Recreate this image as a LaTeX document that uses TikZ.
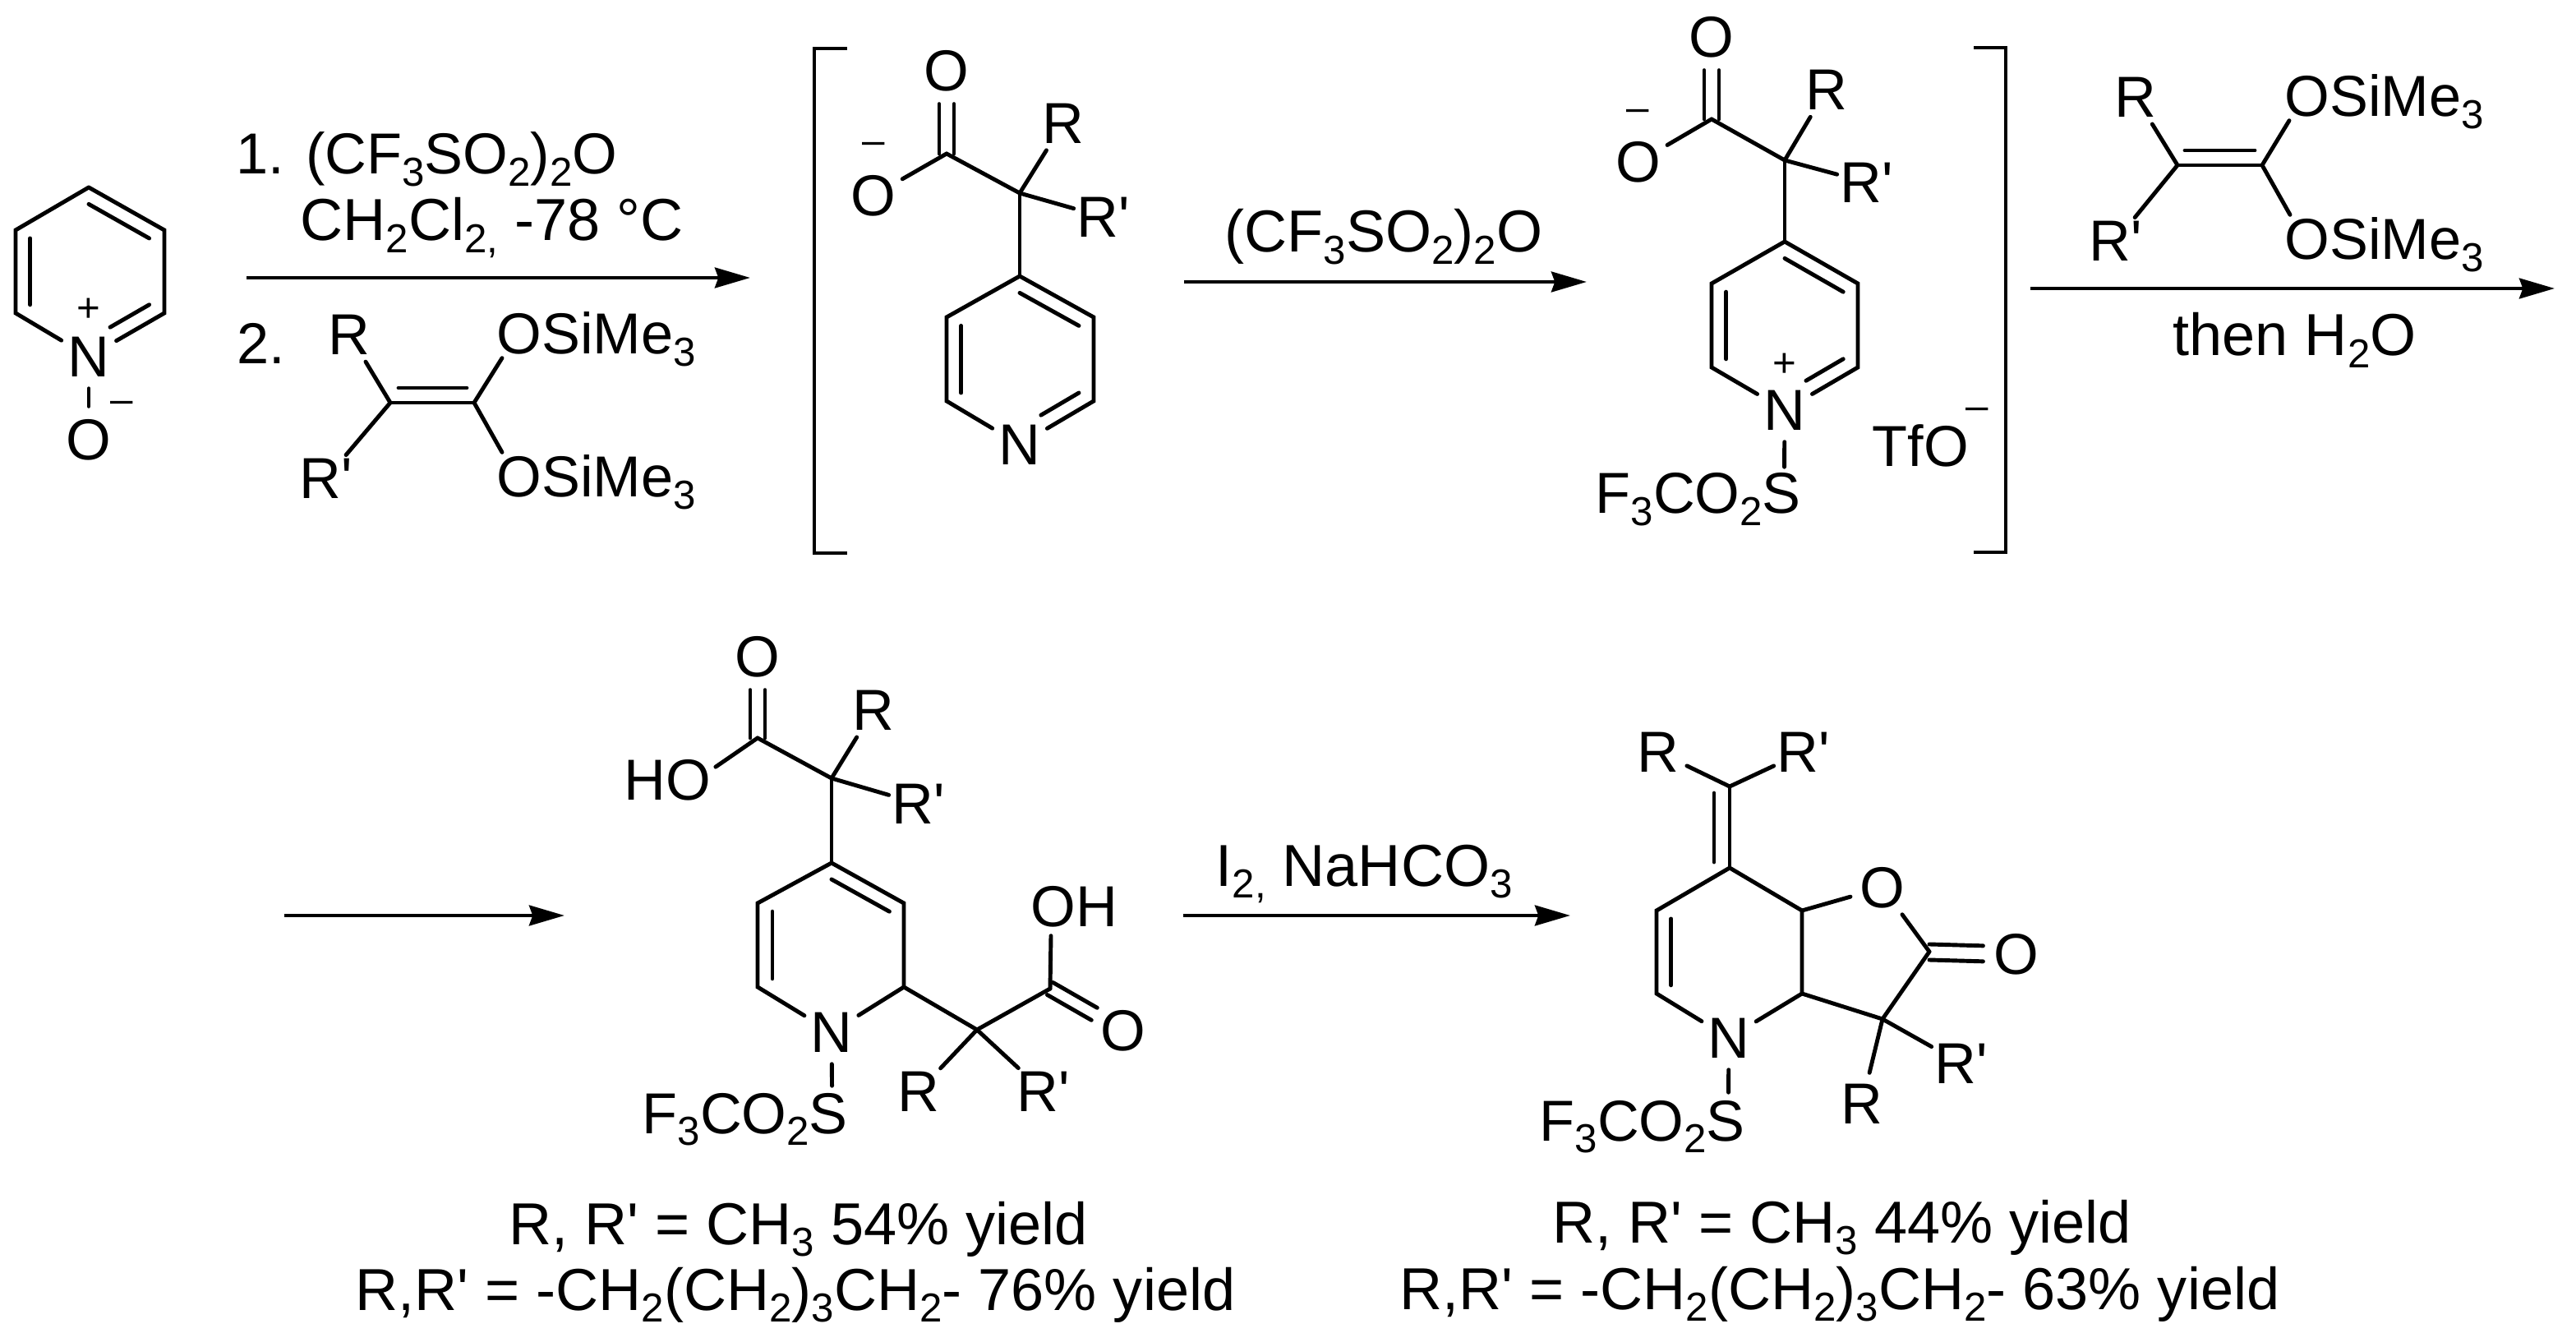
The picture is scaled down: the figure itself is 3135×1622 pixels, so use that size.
\documentclass[tikz,border=0pt]{standalone}
\usepackage{fontspec}
\setmainfont{Liberation Sans}
\usepackage{tikz}
\usetikzlibrary{arrows.meta,calc}
\newcommand{\lo}[1]{\raisebox{-4pt}{\fontsize{14pt}{14pt}\selectfont #1}}
\newcommand{\Rp}{R\textquotesingle}
\newcommand{\dbl}[4][]{\draw[bond,#1] ($(#2)!0.2!(#4)$) -- ($(#3)!0.2!(#4)$);}
\tikzset{
  every node/.style={font=\fontsize{20pt}{24pt}\selectfont},
  bond/.style={line width=1.4pt,line cap=round},
  atom/.style={shape=circle,inner sep=0.6pt},
  rgrp/.style={shape=rectangle,inner sep=1pt},
  lab/.style={anchor=base west,inner sep=0pt,text depth=0pt},
  wlab/.style={lab,font=\fontsize{20.5pt}{24pt}\selectfont},
  chg/.style={inner sep=0pt,font=\fontsize{14pt}{14pt}\selectfont},
  rxn/.style={line width=1.4pt,-{Stealth[length=12.2pt,width=7pt,inset=1.2pt]}},
  brk/.style={line width=1.4pt},
}
\begin{document}
\begin{tikzpicture}[x=0.01cm,y=-0.01cm]
\useasboundingbox (0,0) rectangle (3135,1622);
\coordinate(a1) at (108,228);
\coordinate(a2) at (200,280);
\coordinate(a3) at (200,381);
\coordinate(a5) at (19,381);
\coordinate(a6) at (19,280);
\coordinate(ac) at (108,330);
\node(an) at (108,434)[atom] {N};
\node(ao) at (108,535)[atom] {O};
\node(ap) at (108,377)[chg] {+};
\node(am) at (148,495)[chg] {–};
\draw[bond] (a1) -- (a2) -- (a3) -- (an) -- (a5) -- (a6) -- (a1);
\draw[bond] (an) -- (ao);
\dbl{a1}{a2}{ac}
\dbl{a5}{a6}{ac}
\dbl[shorten >=0.3cm]{a3}{an}{ac}
\node(t1) at (287,212)[lab] {1. (CF\lo{3}SO\lo{2})\lo{2}O};
\node(t2) at (365,293)[wlab] {CH\lo{2}Cl\lo{2,} -78 °C};
\node(t3) at (288,443)[lab] {2.};
\coordinate(s1) at (300,338);
\coordinate(e1) at (913,338);
\draw[rxn] (s1) -- (e1);
\coordinate(b1) at (475,490);
\coordinate(b2) at (577,490);
\node(br) at (425,407)[atom] {R};
\node(brp) at (397,582)[rgrp] {\Rp};
\node(si1) at (604,431)[lab] {OSiMe\lo{3}};
\node(si2) at (604,605)[lab] {OSiMe\lo{3}};
\draw[bond] (b1) -- (b2);
\draw[bond,transform canvas={yshift=0.18cm},shorten <=0.1cm,shorten >=0.09cm] (b1) -- (b2);
\draw[bond] (b1) -- (br);
\draw[bond] (b1) -- (brp);
\draw[bond] (b2) -- ([shift={(7,4)}]si1.south west);
\draw[bond] (b2) -- ([shift={(7,-3)}]si2.north west);
\coordinate(l1) at (1031,59);
\coordinate(l2) at (991,59);
\coordinate(l3) at (991,673);
\coordinate(l4) at (1031,673);
\draw[brk] (l1) -- (l2) -- (l3) -- (l4);
\node(co) at (1152,86)[atom] {O};
\node(cm) at (1063,238)[atom] {O};
\node(cmm) at (1063,180)[chg] {–};
\coordinate(c1) at (1152,187);
\coordinate(c2) at (1241,235);
\node(cr) at (1294,150)[atom] {R};
\node(crp) at (1343,264)[rgrp] {\Rp};
\coordinate(c3) at (1241,336);
\coordinate(c4) at (1331,386);
\coordinate(c5) at (1331,488);
\node(cn) at (1241,541)[atom] {N};
\coordinate(c7) at (1152,488);
\coordinate(c8) at (1152,386);
\coordinate(cc) at (1241,438);
\draw[bond,transform canvas={xshift=-0.09cm}] (c1) -- (co);
\draw[bond,transform canvas={xshift=0.09cm}] (c1) -- (co);
\draw[bond] (c1) -- (cm);
\draw[bond] (c1) -- (c2);
\draw[bond] (c2) -- (cr);
\draw[bond] (c2) -- (crp);
\draw[bond] (c2) -- (c3);
\draw[bond] (c3) -- (c4) -- (c5) -- (cn) -- (c7) -- (c8) -- (c3);
\dbl{c3}{c4}{cc}
\dbl{c7}{c8}{cc}
\dbl[shorten >=0.3cm]{c5}{cn}{cc}
\node(t4) at (1490,307)[wlab] {(CF\lo{3}SO\lo{2})\lo{2}O};
\coordinate(s2) at (1441,343);
\coordinate(e2) at (1931,343);
\draw[rxn] (s2) -- (e2);
\node(do) at (2083,45)[atom] {O};
\node(dm) at (1994,197)[atom] {O};
\node(dmm) at (1993,140)[chg] {–};
\coordinate(d1) at (2083,145);
\coordinate(d2) at (2172,195);
\node(dr) at (2223,109)[atom] {R};
\node(drp) at (2272,222)[rgrp] {\Rp};
\coordinate(d3) at (2172,294);
\coordinate(d4) at (2261,345);
\coordinate(d5) at (2261,447);
\node(dn) at (2172,499)[atom] {N};
\node(dp) at (2172,444)[chg] {+};
\coordinate(d7) at (2083,447);
\coordinate(d8) at (2083,345);
\coordinate(dc) at (2172,396);
\node(df) at (1941,625)[lab] {F\lo{3}CO\lo{2}S};
\node(tf) at (2278,568)[lab] {TfO};
\node(tfm) at (2406,503)[chg] {–};
\draw[bond,transform canvas={xshift=-0.09cm}] (d1) -- (do);
\draw[bond,transform canvas={xshift=0.09cm}] (d1) -- (do);
\draw[bond] (d1) -- (dm);
\draw[bond] (d1) -- (d2);
\draw[bond] (d2) -- (dr);
\draw[bond] (d2) -- (drp);
\draw[bond] (d2) -- (d3);
\draw[bond] (d3) -- (d4) -- (d5) -- (dn) -- (d7) -- (d8) -- (d3);
\dbl{d3}{d4}{dc}
\dbl{d7}{d8}{dc}
\dbl[shorten >=0.3cm]{d5}{dn}{dc}
\draw[bond] (dn) -- ([shift={(-21,-7)}]df.north east);
\coordinate(r1) at (2402,58);
\coordinate(r2) at (2441,58);
\coordinate(r3) at (2441,672);
\coordinate(r4) at (2402,672);
\draw[brk] (r1) -- (r2) -- (r3) -- (r4);
\coordinate(f1) at (2650,201);
\coordinate(f2) at (2753,201);
\node(fr) at (2599,118)[atom] {R};
\node(frp) at (2575,293)[rgrp] {\Rp};
\node(si3) at (2780,142)[lab] {OSiMe\lo{3}};
\node(si4) at (2780,316)[lab] {OSiMe\lo{3}};
\draw[bond] (f1) -- (f2);
\draw[bond,transform canvas={yshift=0.18cm},shorten <=0.09cm,shorten >=0.09cm] (f1) -- (f2);
\draw[bond] (f1) -- (fr);
\draw[bond] (f1) -- (frp);
\draw[bond] (f2) -- ([shift={(6,4)}]si3.south west);
\draw[bond] (f2) -- ([shift={(7,-3)}]si4.north west);
\coordinate(s3) at (2471,351);
\coordinate(e3) at (3109,351);
\draw[rxn] (s3) -- (e3);
\node(t5) at (2644,433)[wlab] {then H\lo{2}O};
\coordinate(s4) at (346,1114);
\coordinate(e4) at (687,1114);
\draw[rxn] (s4) -- (e4);
\node(go) at (922,799)[atom] {O};
\node(gh) at (759,974)[lab] {HO};
\coordinate(g1) at (922,898);
\coordinate(g2) at (1012,947);
\node(gr) at (1063,864)[atom] {R};
\node(grp) at (1118,978)[rgrp] {\Rp};
\coordinate(g3) at (1012,1050);
\coordinate(g4) at (1100,1099);
\coordinate(g5) at (1100,1201);
\node(gn) at (1012,1256)[atom] {N};
\coordinate(g7) at (922,1201);
\coordinate(g8) at (922,1099);
\coordinate(gc) at (1012,1150);
\node(gf) at (781,1379)[lab] {F\lo{3}CO\lo{2}S};
\coordinate(g9) at (1189,1253);
\coordinate(g10) at (1278,1203);
\node(goh) at (1254,1127)[lab] {OH};
\node(goo) at (1367,1254)[atom] {O};
\node(gr2) at (1118,1328)[atom] {R};
\node(grp2) at (1270,1328)[rgrp] {\Rp};
\draw[bond,transform canvas={xshift=-0.09cm}] (g1) -- (go);
\draw[bond,transform canvas={xshift=0.09cm}] (g1) -- (go);
\draw[bond] (g1) -- ([shift={(5,9)}]gh.north east);
\draw[bond] (g1) -- (g2);
\draw[bond] (g2) -- (gr);
\draw[bond] (g2) -- (grp);
\draw[bond] (g2) -- (g3);
\draw[bond] (g3) -- (g4) -- (g5) -- (gn) -- (g7) -- (g8) -- (g3);
\dbl{g3}{g4}{gc}
\dbl{g7}{g8}{gc}
\draw[bond] (gn) -- ([shift={(-20,-8)}]gf.north east);
\draw[bond] (g5) -- (g9);
\draw[bond] (g9) -- (g10);
\draw[bond] (g9) -- (gr2);
\draw[bond] (g9) -- (grp2);
\draw[bond] (g10) -- ([shift={(25,11)}]goh.south west);
\draw[bond,transform canvas={xshift=0.035cm,yshift=0.075cm}] (g10) -- (goo);
\draw[bond,transform canvas={xshift=-0.035cm,yshift=-0.075cm}] (g10) -- (goo);
\node(y1) at (619,1514)[wlab] {R, \Rp{} = CH\lo{3} 54\% yield};
\node(y2) at (432,1594)[wlab] {R,\Rp{} = -CH\lo{2}(CH\lo{2})\lo{3}CH\lo{2}- 76\% yield};
\node(t6) at (1479,1078)[wlab] {I\lo{2,} NaHCO\lo{3}};
\coordinate(s5) at (1440,1114);
\coordinate(e5) at (1911,1114);
\draw[rxn] (s5) -- (e5);
\node(hr) at (2018,915)[atom] {R};
\node(hrp) at (2195,915)[rgrp] {\Rp};
\coordinate(h1) at (2105,957);
\coordinate(h2) at (2105,1056);
\coordinate(h3) at (2193,1108);
\coordinate(h4) at (2193,1209);
\node(hn) at (2104,1263)[atom] {N};
\coordinate(h6) at (2016,1209);
\coordinate(h7) at (2016,1108);
\coordinate(hc) at (2105,1158);
\node(ho) at (2291,1080)[atom] {O};
\coordinate(h8) at (2348,1158);
\node(hoo) at (2454,1161)[atom] {O};
\coordinate(h9) at (2291,1240);
\node(hr2) at (2266,1343)[atom] {R};
\node(hrp2) at (2387,1294)[rgrp] {\Rp};
\node(hf) at (1873,1388)[lab] {F\lo{3}CO\lo{2}S};
\draw[bond] (h1) -- (hr);
\draw[bond] (h1) -- (hrp);
\draw[bond] (h1) -- (h2);
\draw[bond,transform canvas={xshift=-0.19cm},shorten <=0.08cm,shorten >=0.07cm] (h1) -- (h2);
\draw[bond] (h2) -- (h3) -- (h4) -- (hn) -- (h6) -- (h7) -- (h2);
\dbl{h6}{h7}{hc}
\draw[bond] (h3) -- (ho);
\draw[bond] (ho) -- (h8);
\draw[bond] (h8) -- (h9);
\draw[bond] (h4) -- (h9);
\draw[bond,transform canvas={yshift=0.09cm}] (h8) -- (hoo);
\draw[bond,transform canvas={yshift=-0.1cm}] (h8) -- (hoo);
\draw[bond] (h9) -- (hr2);
\draw[bond] (h9) -- (hrp2);
\draw[bond] (hn) -- ([shift={(-21,-9)}]hf.north east);
\node(y3) at (1889,1512)[wlab] {R, \Rp{} = CH\lo{3} 44\% yield};
\node(y4) at (1703,1593)[wlab] {R,\Rp{} = -CH\lo{2}(CH\lo{2})\lo{3}CH\lo{2}- 63\% yield};
\end{tikzpicture}
\end{document}
